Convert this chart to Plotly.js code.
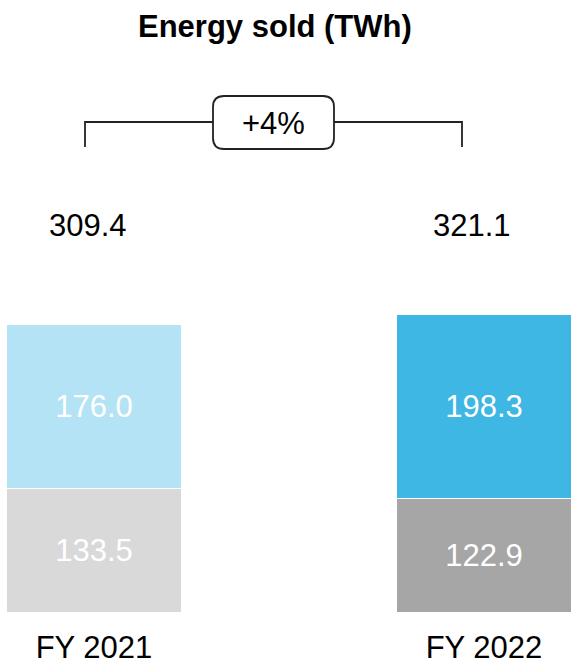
<!DOCTYPE html>
<html><head><meta charset="utf-8">
<script src="https://cdn.plot.ly/plotly-3.0.1.min.js"></script>
<style>html,body{margin:0;padding:0;background:#fff}#chart{width:571px;height:665px}</style>
</head><body><div id="chart"></div>
<script>
const categories = ["FY 2021", "FY 2022"];
const otherValues = [133.5, 122.9];
const mainValues = [176.0, 198.3];
const totals = [309.4, 321.1];
const growthLabel = "+4%";
const titleText = "Energy sold (TWh)";

const W = 571, H = 665, B = 53;
const PH = H - B; // plot height in px
const fx = px => px / W;
const fy = py => (PH - py) / PH;

const font = "Liberation Sans, Arial, sans-serif";
const FS = 31;

const traces = [
  {
    type: "bar", x: [0, 1], y: otherValues,
    text: otherValues.map(v => v.toFixed(1)),
    textposition: "inside", insidetextanchor: "middle",
    textfont: {color: "#ffffff", size: FS, family: font},
    marker: {color: ["#d9d9d9", "#a6a6a6"], line: {color: "#ffffff", width: 1}},
    width: 0.448, hoverinfo: "none"
  },
  {
    type: "bar", x: [0, 1], y: mainValues,
    text: mainValues.map(v => v.toFixed(1)),
    textposition: "inside", insidetextanchor: "middle",
    textfont: {color: "#ffffff", size: FS, family: font},
    marker: {color: ["#b3e3f4", "#3fb7e4"], line: {color: "#ffffff", width: 1}},
    width: 0.448, hoverinfo: "none"
  }
];

function roundRect(x0, y0, x1, y1, r) {
  const P = (x, y) => fx(x) + "," + fy(y);
  return "M" + P(x0 + r, y0) + " L" + P(x1 - r, y0) + " Q" + P(x1, y0) + " " + P(x1, y0 + r) +
    " L" + P(x1, y1 - r) + " Q" + P(x1, y1) + " " + P(x1 - r, y1) +
    " L" + P(x0 + r, y1) + " Q" + P(x0, y1) + " " + P(x0, y1 - r) +
    " L" + P(x0, y0 + r) + " Q" + P(x0, y0) + " " + P(x0 + r, y0) + " Z";
}

const lineStyle = {color: "#222222", width: 1.8};
const shapes = [
  {type: "path", xref: "paper", yref: "paper",
   path: "M" + fx(85) + "," + fy(147) + " L" + fx(85) + "," + fy(122) + " L" + fx(462) + "," + fy(122) + " L" + fx(462) + "," + fy(147),
   line: lineStyle},
  {type: "path", xref: "paper", yref: "paper", path: roundRect(213, 96, 334, 149, 11),
   line: lineStyle, fillcolor: "#ffffff"}
];

const annotations = [
  {xref: "paper", yref: "paper", x: fx(273.5), y: fy(124), text: growthLabel, showarrow: false,
   font: {size: FS, color: "#000", family: font}, xanchor: "center", yanchor: "middle"},
  {xref: "paper", yref: "paper", x: fx(275), y: fy(27), text: "<b>" + titleText + "</b>", showarrow: false,
   font: {size: 31, color: "#000", family: font}, xanchor: "center", yanchor: "middle"}
];
const totalShift = [-6, -12];
totals.forEach((t, i) => annotations.push({
  xref: "x", yref: "paper", x: i, y: fy(225), text: t.toFixed(1), showarrow: false, xshift: totalShift[i],
  font: {size: FS, color: "#000", family: font}, xanchor: "center", yanchor: "middle"
}));

const layout = {
  width: W, height: H, barmode: "stack", showlegend: false,
  margin: {l: 0, r: 0, t: 0, b: B, pad: 0},
  paper_bgcolor: "#fff", plot_bgcolor: "#fff",
  font: {family: font, color: "#000"},
  xaxis: {range: [-94 / 390, 1 + 87 / 390], tickvals: [0, 1], ticktext: categories,
          showgrid: false, zeroline: false, showline: false, ticks: "", ticklen: 0,
          ticklabelstandoff: 14,
          tickfont: {size: 31, color: "#000", family: font}, fixedrange: true},
  yaxis: {range: [0, PH / (287 / 309.4)], visible: false, showgrid: false, zeroline: false, fixedrange: true},
  shapes: shapes, annotations: annotations, bargap: 0
};

Plotly.newPlot("chart", traces, layout, {displayModeBar: false, staticPlot: true});
</script></body></html>
